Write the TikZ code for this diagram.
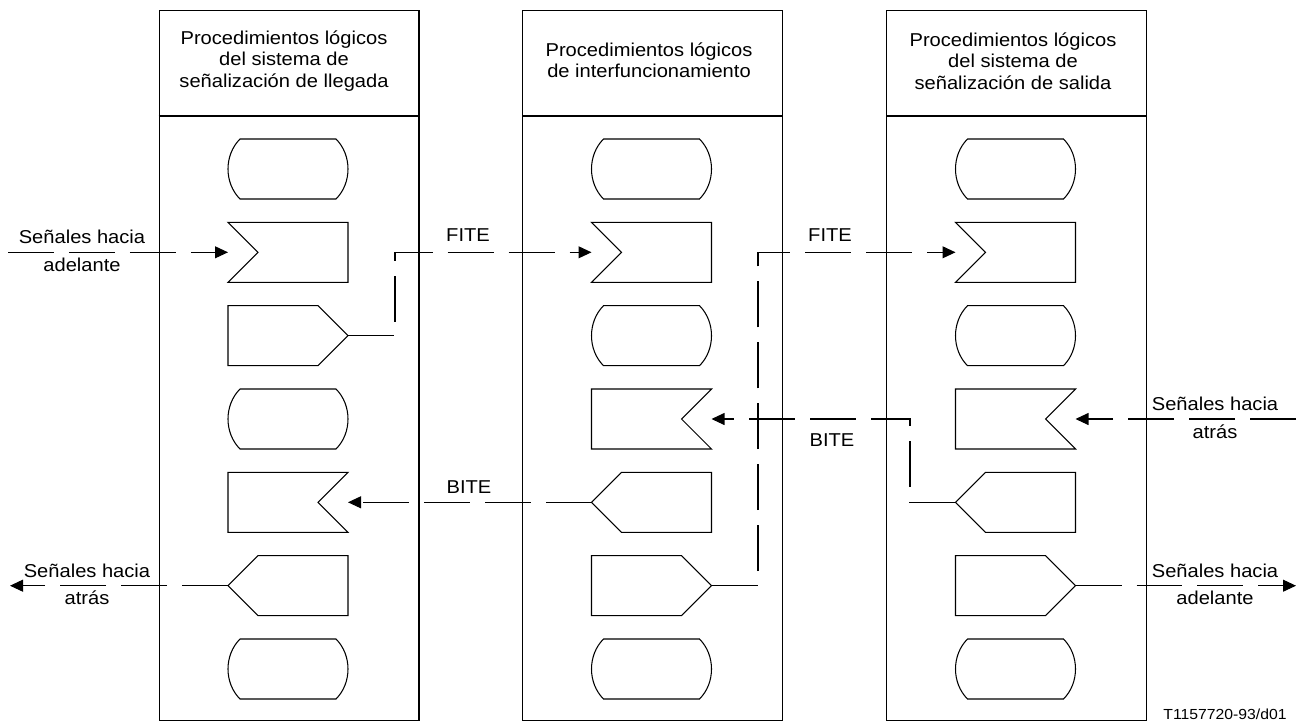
\documentclass[tikz,border=0pt]{standalone}
\usepackage{fontspec}
\setmainfont[FakeStretch=1.08]{Liberation Sans}
\usetikzlibrary{positioning,arrows.meta}

\tikzset{
	column/.style={draw, inner sep=0pt, minimum width=5.2cm, minimum height=14.22cm},
	head/.style={align=center, inner sep=0pt},
	sigtxt/.style={inner sep=0pt},
	sig/.style={dash pattern=on 0.92cm off 0.3cm, -{Triangle[length=7.4pt,width=6.8pt]}},
	state/.pic={\draw (-48,-30) -- (48,-30) .. controls (64,-14) and (64,14) .. (48,30) -- (-48,30) .. controls (-64,14) and (-64,-14) .. (-48,-30) -- cycle;},
	inleft/.pic={\draw (-60,-30) -- (60,-30) -- (60,30) -- (-60,30) -- (-30,0) -- cycle;
		\coordinate (-pt) at (-60,0);},
	inright/.pic={\draw (-60,-30) -- (60,-30) -- (30,0) -- (60,30) -- (-60,30) -- cycle;
		\coordinate (-pt) at (60,0);},
	outright/.pic={\draw (-60,-30) -- (30,-30) -- (60,0) -- (30,30) -- (-60,30) -- cycle;
		\coordinate (-pt) at (60,0);},
	outleft/.pic={\draw (-30,-30) -- (60,-30) -- (60,30) -- (-30,30) -- (-60,0) -- cycle;
		\coordinate (-pt) at (-60,0);},
}

\begin{document}
\begin{tikzpicture}
		[x=0.02cm, y=-0.02cm, line width=0.6pt, font=\fontsize{10.6}{12.2}\selectfont]
		\useasboundingbox (0,0) rectangle (1308,724);

		% the three columns
		\node[column] (lcol) at (289,365.5) {};
		\node[column] (mcol) at (652.5,365.5) {};
		\node[column] (rcol) at (1016.5,365.5) {};
		\coordinate (hsep) at (0,116);
		\draw (lcol.west |- hsep) -- (lcol.east |- hsep);
		\draw (mcol.west |- hsep) -- (mcol.east |- hsep);
		\draw (rcol.west |- hsep) -- (rcol.east |- hsep);
		\node[head] (lhead) at (284,61) {Procedimientos lógicos\\del sistema de\\señalización de llegada};
		\node[head] (mhead) at (649,60) {Procedimientos lógicos\\de interfuncionamiento};
		\node[head] (rhead) at (1013,61) {Procedimientos lógicos\\del sistema de\\señalización de salida};

		% incoming side
		\pic (l1) at (288,169) {state};
		\pic (l2) at (288,252.3) {inleft};
		\pic (l3) at (288,335.7) {outright};
		\pic (l4) at (288,419) {state};
		\pic (l5) at (288,502.3) {inright};
		\pic (l6) at (288,585.7) {outleft};
		\pic (l7) at (288,669) {state};

		% interworking
		\pic (m1) at (651.5,169) {state};
		\pic (m2) at (651.5,252.3) {inleft};
		\pic (m3) at (651.5,335.7) {state};
		\pic (m4) at (651.5,419) {inright};
		\pic (m5) at (651.5,502.3) {outleft};
		\pic (m6) at (651.5,585.7) {outright};
		\pic (m7) at (651.5,669) {state};

		% outgoing side
		\pic (r1) at (1015.5,169) {state};
		\pic (r2) at (1015.5,252.3) {inleft};
		\pic (r3) at (1015.5,335.7) {state};
		\pic (r4) at (1015.5,419) {inright};
		\pic (r5) at (1015.5,502.3) {outleft};
		\pic (r6) at (1015.5,585.7) {outright};
		\pic (r7) at (1015.5,669) {state};

		% signals
		\coordinate (fwdin) at (8,252.3);
		\coordinate (bwdout) at (10,585.7);
		\coordinate (bwdin) at (1296,419);
		\coordinate (fwdout) at (1296,585.7);
		\coordinate (fite1) at (395,252.3);
		\coordinate (fite2) at (758,252.3);
		\coordinate (bite2) at (910,419);

		\draw[sig] (fwdin) -- (l2-pt);
		\draw[sig] (l3-pt) -| (fite1) -- (m2-pt);
		\draw[sig] (m6-pt) -| (fite2) -- (r2-pt);
		\draw[sig] (bwdin) -- (r4-pt);
		\draw[sig] (r5-pt) -| (bite2) -- (m4-pt);
		\draw[sig] (m5-pt) -- (l5-pt);
		\draw[sig] (l6-pt) -- (bwdout);
		\draw[sig] (r6-pt) -- (fwdout);

		\node[sigtxt, above=4.5pt] (fwdintop) at (82,252.3) {Señales hacia};
		\node[sigtxt, below=2.8pt] (fwdinbot) at (82,252.3) {adelante};
		\node[sigtxt, above=4.5pt] (bwdouttop) at (87,585.7) {Señales hacia};
		\node[sigtxt, below=2.8pt] (bwdoutbot) at (87,585.7) {atrás};
		\node[sigtxt, above=4.5pt] (bwdintop) at (1215,419) {Señales hacia};
		\node[sigtxt, below=2.8pt] (bwdinbot) at (1215,419) {atrás};
		\node[sigtxt, above=4.5pt] (fwdouttop) at (1215,585.7) {Señales hacia};
		\node[sigtxt, below=2.8pt] (fwdoutbot) at (1215,585.7) {adelante};
		\node[sigtxt, above=5.7pt] (fite1lab) at (468,252.3) {FITE};
		\node[sigtxt, above=5.7pt] (fite2lab) at (830,252.3) {FITE};
		\node[sigtxt, below=8pt] (bite2lab) at (832,419) {BITE};
		\node[sigtxt, above=4.5pt] (bite1lab) at (469,502.3) {BITE};

		\node[anchor=base east, font=\fontsize{8.3}{10}\selectfont] (figref) at (1293,719) {T1157720-93/d01};
	\end{tikzpicture}
\end{document}
